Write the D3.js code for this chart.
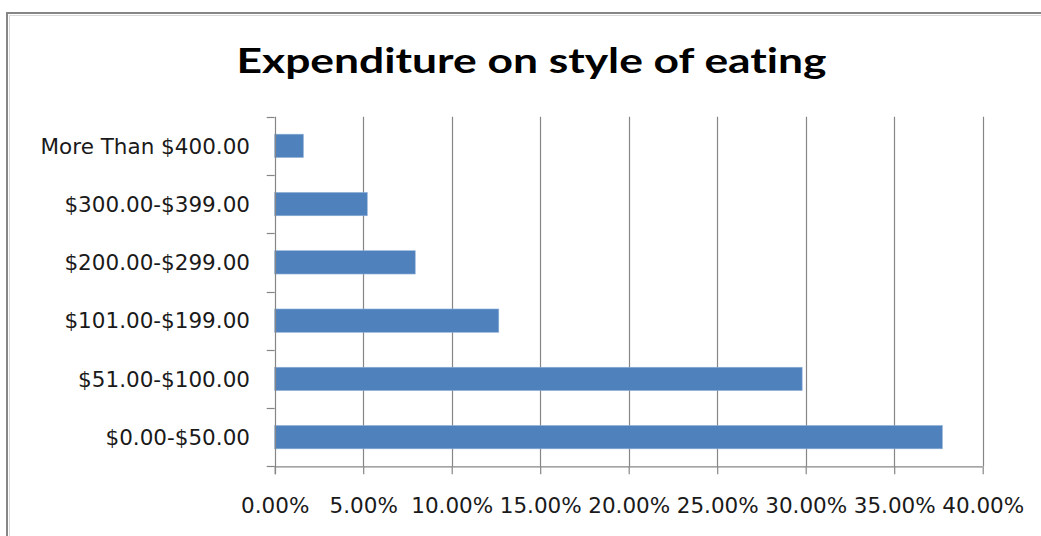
<!DOCTYPE html>
<html>
<head>
<meta charset="utf-8">
<script src="https://cdn.jsdelivr.net/npm/d3@7"></script>
<style>
  html, body { margin: 0; padding: 0; background: #fff; }
  svg { display: block; }
  .title { font-variant-ligatures: none; font-feature-settings: "liga" 0, "dlig" 0; }
</style>
</head>
<body>
<svg id="chart" width="1041" height="536"></svg>
<script>
// Spending brackets, lowest first
const categories = [
  "$0.00-$50.00",
  "$51.00-$100.00",
  "$101.00-$199.00",
  "$200.00-$299.00",
  "$300.00-$399.00",
  "More Than $400.00"
];
// Share of respondents in each bracket (percent)
const shares = [37.72, 29.8, 12.66, 7.94, 5.23, 1.62];
// Horizontal axis ticks (percent)
const tickValues = [0, 5, 10, 15, 20, 25, 30, 35, 40];
const title = "Expenditure on style of eating";

const data = categories.map((c, i) => ({ category: c, value: shares[i] }));

const svg = d3.select("#chart");
const W = 1041, H = 536;

// Chart frame
svg.append("rect")
  .attr("x", 7).attr("y", 13)
  .attr("width", W + 20).attr("height", H + 20)
  .attr("fill", "#fff")
  .attr("stroke", "#868686")
  .attr("stroke-width", 2);
svg.append("path")
  .attr("d", `M9,15.5H${W}M9.5,15V${H}`)
  .attr("stroke", "#d9d9d9")
  .attr("stroke-width", 1)
  .attr("fill", "none");

// Title
svg.append("text")
  .attr("class", "title")
  .attr("x", 236.5)
  .attr("y", 72.5)
  .attr("textLength", 590)
  .attr("lengthAdjust", "spacingAndGlyphs")
  .attr("font-family", "Lato, 'Open Sans', sans-serif")
  .attr("font-weight", "bold")
  .attr("font-size", 35)
  .attr("fill", "#000")
  .text(title);

const plot = { left: 274.7, right: 982.7, top: 116.7, bottom: 466.3 };

const x = d3.scaleLinear()
  .domain([0, 40])
  .range([plot.left, plot.right]);

const y = d3.scaleBand()
  .domain(categories.slice().reverse())
  .range([plot.top, plot.bottom])
  .paddingInner(0.6)
  .paddingOuter(0.3);

const lineColor = "#868686";
const font = "'DejaVu Sans', sans-serif";
const labelSize = 21.5;

// Vertical gridlines
svg.append("g")
  .selectAll("line")
  .data(tickValues.filter(v => v > 0))
  .join("line")
  .attr("x1", d => Math.round(x(d)) + 0.5)
  .attr("x2", d => Math.round(x(d)) + 0.5)
  .attr("y1", plot.top)
  .attr("y2", plot.bottom)
  .attr("stroke", lineColor)
  .attr("stroke-width", 1.2);

// Bars
svg.append("g")
  .selectAll("rect")
  .data(data)
  .join("rect")
  .attr("x", x(0))
  .attr("y", d => y(d.category))
  .attr("width", d => x(d.value) - x(0))
  .attr("height", y.bandwidth())
  .attr("fill", "#4f81bd")
  .attr("stroke", "#8fb0d8")
  .attr("stroke-width", 0.6);

// Horizontal axis
const xAxis = d3.axisBottom(x)
  .tickValues(tickValues)
  .tickSize(8)
  .tickPadding(24)
  .tickFormat(d => d3.format(".2f")(d) + "%");

const gx = svg.append("g")
  .attr("transform", `translate(0,${plot.bottom})`)
  .call(xAxis);
gx.select(".domain").attr("stroke", lineColor).attr("stroke-width", 1.2)
  .attr("d", `M${plot.left},0.5H${plot.right}`);
gx.selectAll(".tick line").attr("stroke", lineColor).attr("stroke-width", 1.2);
gx.selectAll(".tick text")
  .attr("font-family", font)
  .attr("font-size", labelSize)
  .attr("fill", "#1a1a1a")
  .attr("dy", "0.7em");

// Vertical axis: boundaries between categories carry the tick marks
const ga = svg.append("g");
ga.append("line")
  .attr("x1", Math.round(plot.left) + 0.5)
  .attr("x2", Math.round(plot.left) + 0.5)
  .attr("y1", plot.top)
  .attr("y2", plot.bottom + 8)
  .attr("stroke", lineColor)
  .attr("stroke-width", 1.2);
const bounds = d3.range(categories.length + 1).map(i => plot.top + i * y.step());
ga.selectAll("line.tick")
  .data(bounds)
  .join("line")
  .attr("class", "tick")
  .attr("x1", plot.left - 8)
  .attr("x2", plot.left)
  .attr("y1", d => Math.round(d) + 0.5)
  .attr("y2", d => Math.round(d) + 0.5)
  .attr("stroke", lineColor)
  .attr("stroke-width", 1.2);

ga.selectAll("text")
  .data(categories)
  .join("text")
  .attr("x", 250)
  .attr("y", d => y(d) + y.bandwidth() / 2)
  .attr("dy", "0.36em")
  .attr("text-anchor", "end")
  .attr("font-family", font)
  .attr("font-size", labelSize)
  .attr("fill", "#1a1a1a")
  .text(d => d);
</script>
</body>
</html>
